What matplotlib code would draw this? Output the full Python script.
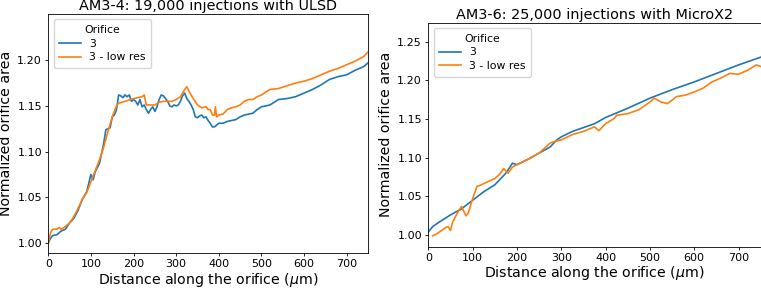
import numpy as np
import matplotlib
matplotlib.use("Agg")
import matplotlib.pyplot as plt

# left panel: AM3-4, ULSD
left_x_hi = [0, 5, 10, 20, 30, 40, 50, 60, 70, 80, 90, 100, 105, 110, 120, 125, 130, 135, 140, 145,
             150, 155, 160, 165, 170, 175, 180, 185, 190, 195, 200, 205, 210, 215, 220, 225, 230, 235,
             240, 245, 250, 255, 260, 265, 270, 275, 280, 285, 290, 295, 300, 305, 310, 315, 320, 325,
             330, 335, 340, 345, 350, 355, 360, 365, 370, 375, 380, 385, 390, 395, 400, 410, 420, 430,
             440, 450, 460, 470, 480, 490, 500, 520, 540, 560, 580, 600, 620, 640, 660, 680, 700, 720,
             740, 750]
left_y_hi = [1.000, 1.005, 1.008, 1.009, 1.013, 1.015, 1.022, 1.027, 1.036, 1.048, 1.056, 1.075, 1.069,
             1.078, 1.087, 1.098, 1.109, 1.124, 1.125, 1.126, 1.138, 1.140, 1.146, 1.162, 1.161, 1.159,
             1.162, 1.160, 1.162, 1.155, 1.157, 1.155, 1.151, 1.157, 1.149, 1.151, 1.146, 1.142, 1.146,
             1.149, 1.144, 1.149, 1.157, 1.162, 1.161, 1.158, 1.155, 1.150, 1.149, 1.151, 1.150, 1.151,
             1.155, 1.161, 1.164, 1.158, 1.155, 1.151, 1.146, 1.138, 1.137, 1.139, 1.140, 1.137, 1.138,
             1.134, 1.131, 1.127, 1.127, 1.129, 1.131, 1.131, 1.133, 1.134, 1.135, 1.138, 1.140, 1.141,
             1.142, 1.146, 1.149, 1.151, 1.157, 1.158, 1.160, 1.164, 1.168, 1.173, 1.179, 1.182, 1.184,
             1.189, 1.193, 1.197]

left_x_lo = [0, 5, 10, 15, 20, 25, 30, 40, 50, 60, 70, 80, 90, 100, 110, 120, 130, 140, 150, 160, 165,
             180, 200, 220, 225, 230, 240, 250, 260, 270, 280, 290, 300, 310, 320, 325, 330, 340, 350,
             360, 370, 375, 380, 385, 390, 392, 395, 400, 410, 420, 430, 440, 450, 460, 470, 480, 490,
             500, 520, 540, 560, 580, 600, 620, 640, 660, 680, 700, 720, 740, 750]
left_y_lo = [1.000, 1.011, 1.015, 1.015, 1.015, 1.017, 1.015, 1.018, 1.022, 1.029, 1.038, 1.048, 1.055,
             1.067, 1.079, 1.091, 1.105, 1.122, 1.138, 1.150, 1.153, 1.155, 1.158, 1.160, 1.162, 1.151,
             1.151, 1.151, 1.154, 1.155, 1.155, 1.155, 1.157, 1.160, 1.168, 1.171, 1.166, 1.158, 1.151,
             1.148, 1.149, 1.146, 1.146, 1.140, 1.140, 1.149, 1.138, 1.140, 1.141, 1.146, 1.148, 1.149,
             1.151, 1.155, 1.157, 1.157, 1.160, 1.162, 1.168, 1.169, 1.172, 1.175, 1.177, 1.180, 1.184,
             1.188, 1.191, 1.195, 1.199, 1.204, 1.209]

# right panel: AM3-6, MicroX2
right_x_hi = [0, 10, 25, 50, 75, 100, 125, 150, 175, 190, 200, 225, 250, 275, 290, 300, 325, 350, 375,
              400, 450, 500, 550, 600, 650, 700, 750]
right_y_hi = [1.004, 1.011, 1.017, 1.026, 1.034, 1.045, 1.056, 1.065, 1.080, 1.093, 1.091, 1.098, 1.106,
              1.114, 1.123, 1.127, 1.134, 1.139, 1.144, 1.152, 1.164, 1.177, 1.188, 1.198, 1.209, 1.220,
              1.230]

right_x_lo = [10, 20, 30, 40, 45, 50, 55, 65, 75, 85, 90, 100, 110, 120, 130, 150, 160, 170, 180, 190,
              200, 225, 250, 275, 285, 300, 325, 350, 375, 385, 400, 420, 425, 450, 475, 500, 510, 525,
              540, 560, 580, 600, 620, 640, 660, 680, 700, 720, 740, 750]
right_y_lo = [0.999, 1.002, 1.006, 1.010, 1.011, 1.006, 1.017, 1.028, 1.037, 1.025, 1.028, 1.047, 1.063,
              1.065, 1.068, 1.073, 1.078, 1.086, 1.080, 1.088, 1.091, 1.098, 1.106, 1.119, 1.121, 1.123,
              1.130, 1.134, 1.140, 1.135, 1.144, 1.151, 1.155, 1.157, 1.162, 1.172, 1.177, 1.172, 1.170,
              1.179, 1.181, 1.185, 1.190, 1.198, 1.203, 1.209, 1.208, 1.213, 1.220, 1.218]

blue, orange = "#1f77b4", "#ff7f0e"

fig = plt.figure(figsize=(7.61, 2.88), dpi=100)
ax1 = fig.add_axes([0.0635, 0.1215, 0.420, 0.830])
ax2 = fig.add_axes([0.5628, 0.1434, 0.4368, 0.7778])

panels = [
    (ax1, left_x_hi, left_y_hi, left_x_lo, left_y_lo, "AM3-4: 19,000 injections with ULSD", (0.989, 1.2506), [1.00, 1.05, 1.10, 1.15, 1.20]),
    (ax2, right_x_hi, right_y_hi, right_x_lo, right_y_lo, "AM3-6: 25,000 injections with MicroX2", (0.985, 1.2746), [1.00, 1.05, 1.10, 1.15, 1.20, 1.25]),
]

for ax, xh, yh, xl, yl, title, ylim, yticks in panels:
    ax.plot(xh, yh, color=blue, linewidth=1.2, label="3")
    ax.plot(xl, yl, color=orange, linewidth=1.2, label="3 - low res")
    ax.set_xlim(0, 750)
    ax.set_ylim(*ylim)
    ax.set_xticks([0, 100, 200, 300, 400, 500, 600, 700])
    ax.set_yticks(yticks)
    ax.tick_params(labelsize=8, length=2.5, width=0.6, pad=2)
    ax.set_title(title, fontsize=10.4, pad=2.5)
    ax.set_xlabel("Distance along the orifice ($\\mu$m)", fontsize=10.2, labelpad=1)
    ax.set_ylabel("Normalized orifice area", fontsize=10.2, labelpad=3)
    for s in ax.spines.values():
        s.set_linewidth(0.6)
    leg = ax.legend(title="Orifice", loc="upper left", fontsize=7.8, title_fontsize=7.8,
                    handlelength=2.0, borderpad=0.5, labelspacing=0.35, framealpha=0.8)

fig.savefig("out.png", dpi=100)
